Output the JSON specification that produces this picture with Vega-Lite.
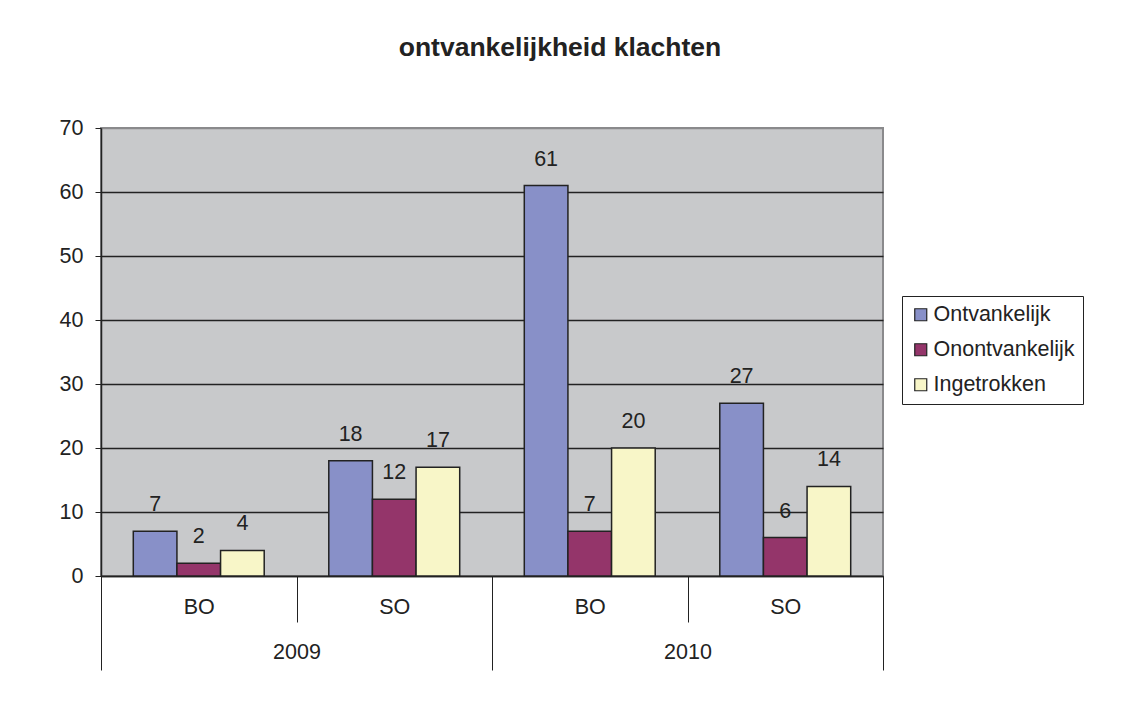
{
  "$schema": "https://vega.github.io/schema/vega-lite/v6.json",
  "width": 782,
  "height": 448,
  "autosize": {"type": "none"},
  "padding": {"left": 101, "top": 128, "right": 245, "bottom": 146},
  "background": "white",
  "title": {
    "text": "ontvankelijkheid klachten",
    "anchor": "middle",
    "frame": "group",
    "dx": 68,
    "offset": 35,
    "baseline": "alphabetic",
    "font": "Liberation Sans",
    "fontSize": 26.5,
    "fontWeight": "bold",
    "color": "#222222"
  },
  "config": {
    "view": {"fill": "#C8C9CB", "stroke": "#8A8A8C", "strokeWidth": 2},
    "font": "Liberation Sans",
    "axis": {"labelFont": "Liberation Sans", "labelColor": "#222222", "labelFontSize": 21.5, "tickColor": "#222222", "domainColor": "#222222", "title": null}
  },
  "data": {
    "values": [
      {"cat": "2009 BO", "year": "2009", "series": "Ontvankelijk", "value": 7},
      {"cat": "2009 BO", "year": "2009", "series": "Onontvankelijk", "value": 2},
      {"cat": "2009 BO", "year": "2009", "series": "Ingetrokken", "value": 4},
      {"cat": "2009 SO", "year": "2009", "series": "Ontvankelijk", "value": 18},
      {"cat": "2009 SO", "year": "2009", "series": "Onontvankelijk", "value": 12},
      {"cat": "2009 SO", "year": "2009", "series": "Ingetrokken", "value": 17},
      {"cat": "2010 BO", "year": "2010", "series": "Ontvankelijk", "value": 61},
      {"cat": "2010 BO", "year": "2010", "series": "Onontvankelijk", "value": 7},
      {"cat": "2010 BO", "year": "2010", "series": "Ingetrokken", "value": 20},
      {"cat": "2010 SO", "year": "2010", "series": "Ontvankelijk", "value": 27},
      {"cat": "2010 SO", "year": "2010", "series": "Onontvankelijk", "value": 6},
      {"cat": "2010 SO", "year": "2010", "series": "Ingetrokken", "value": 14}
    ]
  },
  "layer": [
    {
      "layer": [
        {
          "mark": {"type": "bar", "stroke": "#222222", "strokeWidth": 1.5},
          "encoding": {
            "x": {
              "field": "cat", "type": "nominal",
              "scale": {"type": "band", "paddingInner": 0, "paddingOuter": 0},
              "axis": {
                "labelExpr": "split(datum.label, ' ')[1]",
                "labelAngle": 0,
                "tickBand": "extent",
                "tickSize": 46,
                "labelBaseline": "alphabetic",
                "labelPadding": -9,
                "domain": true,
                "domainWidth": 1.5,
                "grid": false
              }
            },
            "xOffset": {
              "field": "series", "type": "nominal",
              "sort": ["Ontvankelijk", "Onontvankelijk", "Ingetrokken"],
              "scale": {"paddingOuter": 0.74, "paddingInner": 0}
            },
            "y": {
              "field": "value", "type": "quantitative",
              "scale": {"domain": [0, 70], "nice": false},
              "axis": {
                "values": [0, 10, 20, 30, 40, 50, 60, 70],
                "tickSize": 6,
                "labelPadding": 12,
                "grid": true,
                "gridColor": {"condition": {"test": "datum.value == 70", "value": "#8A8A8C"}, "value": "#222222"},
                "gridWidth": 1.5,
                "domainWidth": 1.5
              }
            },
            "color": {
              "field": "series", "type": "nominal",
              "scale": {"domain": ["Ontvankelijk", "Onontvankelijk", "Ingetrokken"], "range": ["#8890C8", "#94356A", "#F8F6C8"]},
              "legend": {
                "title": null,
                "orient": "none",
                "legendX": 801,
                "legendY": 168,
                "symbolType": "square",
                "symbolSize": 144,
                "symbolStrokeColor": "#222222",
                "symbolStrokeWidth": 1.2,
                "labelFontSize": 21.5,
                "labelFont": "Liberation Sans",
                "labelColor": "#222222",
                "labelOffset": 2,
                "rowPadding": 12,
                "padding": 8,
                "strokeColor": "#222222",
                "fillColor": "white"
              }
            }
          }
        },
        {
          "mark": {"type": "text", "baseline": "alphabetic", "dy": -20, "fontSize": 21.5, "font": "Liberation Sans", "color": "#222222"},
          "encoding": {
            "x": {"field": "cat", "type": "nominal"},
            "xOffset": {"field": "series", "type": "nominal", "sort": ["Ontvankelijk", "Onontvankelijk", "Ingetrokken"]},
            "y": {"field": "value", "type": "quantitative"},
            "text": {"field": "value", "type": "quantitative"}
          }
        }
      ]
    },
    {
      "mark": {"type": "point", "opacity": 0},
      "encoding": {
        "x": {
          "field": "year", "type": "nominal",
          "scale": {"type": "band", "paddingInner": 0, "paddingOuter": 0},
          "axis": {
            "orient": "bottom",
            "labelAngle": 0,
            "tickBand": "extent",
            "tickSize": 94,
            "labelBaseline": "alphabetic",
            "labelPadding": -12,
            "domain": false,
            "grid": false
          }
        },
        "y": {"field": "value", "type": "quantitative"}
      }
    }
  ],
  "resolve": {"scale": {"x": "independent"}, "axis": {"x": "independent"}}
}
